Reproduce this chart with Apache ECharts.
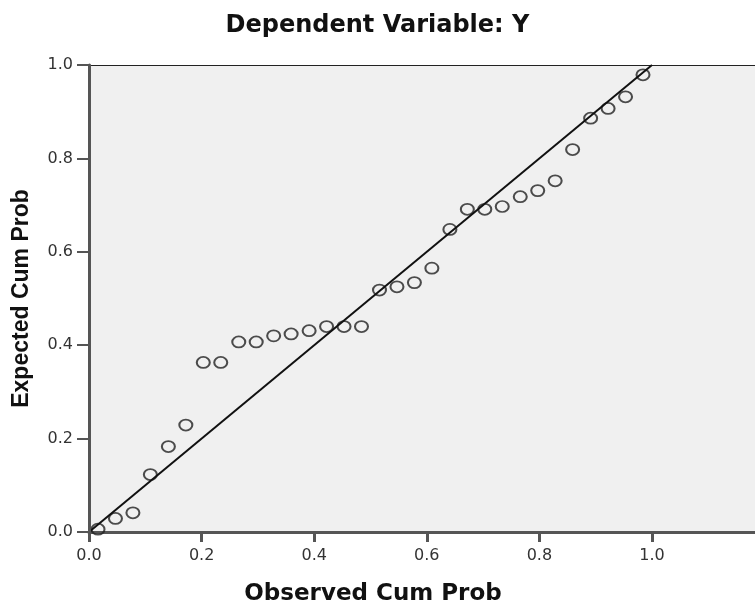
<!DOCTYPE html>
<html>
<head>
<meta charset="utf-8">
<script src="https://cdn.jsdelivr.net/npm/echarts@6/dist/echarts.min.js"></script>
<style>
html,body{margin:0;padding:0;background:#fff;}
#chart{width:755px;height:607px;}
</style>
</head>
<body>
<div id="chart"></div>
<script>
// Observed cumulative probability (x)
const observed = [0.016, 0.047, 0.078, 0.109, 0.141, 0.172, 0.203, 0.234, 0.266, 0.297, 0.328, 0.359, 0.391, 0.422, 0.453, 0.484,
                  0.516, 0.547, 0.578, 0.609, 0.641, 0.672, 0.703, 0.734, 0.766, 0.797, 0.828, 0.859, 0.891, 0.922, 0.953, 0.984];
// Expected cumulative probability (y)
const expected = [0.006, 0.029, 0.041, 0.123, 0.183, 0.229, 0.363, 0.363, 0.407, 0.407, 0.420, 0.424, 0.431, 0.440, 0.440, 0.440,
                  0.518, 0.525, 0.534, 0.565, 0.648, 0.691, 0.691, 0.697, 0.718, 0.731, 0.752, 0.819, 0.886, 0.907, 0.932, 0.979];
// Diagonal reference line end points
const refLine = [[0, 0], [1, 1]];
const tickLabels = ['0.0', '0.2', '0.4', '0.6', '0.8', '1.0'];

const titleText = 'Dependent Variable: Y';
const xName = 'Observed Cum Prob';
const yName = 'Expected Cum Prob';

const points = observed.map((x, i) => [x, expected[i]]);

function fmt(v) {
  const k = Math.round(v * 5);
  if (Math.abs(v * 5 - k) > 1e-6 || k < 0 || k >= tickLabels.length) return '';
  return tickLabels[k];
}

const chart = echarts.init(document.getElementById('chart'));
chart.setOption({
  animation: false,
  backgroundColor: '#ffffff',
  title: {
    text: titleText,
    left: 'center',
    top: 9,
    textStyle: { fontFamily: 'DejaVu Sans', fontWeight: 'bold', fontSize: 24, color: '#111' }
  },
  grid: {
    left: 89, right: -6, top: 65, bottom: 75,
    outerBoundsMode: 'none', containLabel: false,
    show: true, backgroundColor: '#f0f0f0', borderWidth: 0
  },
  xAxis: [
    {
      type: 'value', min: 0, max: 1.1936, interval: 0.2,
      name: xName, nameLocation: 'middle', nameGap: 51,
      nameTextStyle: { fontFamily: 'DejaVu Sans', fontWeight: 'bold', fontSize: 23, color: '#111', padding: [0, 104, 0, 0] },
      axisLine: { show: true, lineStyle: { color: '#555', width: 3 } },
      axisTick: { show: true, length: 10, lineStyle: { color: '#555', width: 3 } },
      axisLabel: { margin: 16, formatter: fmt, showMaxLabel: false, fontFamily: 'DejaVu Sans', fontSize: 16, color: '#333' },
      splitLine: { show: false }
    },
    {
      type: 'value', min: 0, max: 1.1936, position: 'top',
      axisLine: { show: true, lineStyle: { color: '#222', width: 1.2 } },
      axisTick: { show: false }, axisLabel: { show: false }, splitLine: { show: false }
    }
  ],
  yAxis: {
    type: 'value', min: 0, max: 1, interval: 0.2,
    name: yName, nameLocation: 'middle', nameGap: 56,
    nameTextStyle: { fontFamily: 'Liberation Sans', fontWeight: 'bold', fontSize: 23, color: '#111' },
    axisLine: { show: true, lineStyle: { color: '#555', width: 3 } },
    axisTick: { show: true, length: 12, lineStyle: { color: '#555', width: 2 } },
    axisLabel: { margin: 16, formatter: fmt, fontFamily: 'DejaVu Sans', fontSize: 16, color: '#333' },
    splitLine: { show: false },
    z: 5
  },
  series: [
    {
      type: 'scatter',
      data: points,
      symbol: 'circle',
      symbolSize: [13, 11],
      itemStyle: { color: 'rgba(0,0,0,0)', borderColor: '#222', borderWidth: 1.9 },
      z: 2
    },
    {
      type: 'line',
      data: refLine,
      showSymbol: false,
      symbol: 'none',
      lineStyle: { color: '#111', width: 2 },
      z: 3
    }
  ]
});
</script>
</body>
</html>
